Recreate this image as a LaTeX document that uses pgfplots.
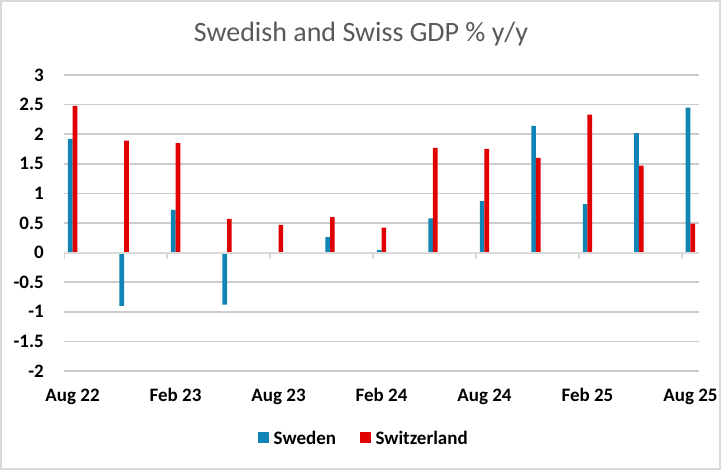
\documentclass[border=0pt]{standalone}
\usepackage{pgfplots}
\pgfplotsset{compat=1.18}
\usepackage{pgfplotstable}
\usepackage{fontspec}
\setmainfont{Carlito}

\definecolor{sweblue}{RGB}{16,132,180}
\definecolor{chred}{RGB}{224,0,0}
\definecolor{gridgray}{RGB}{204,204,204}
\definecolor{axisgray}{RGB}{217,217,217}
\definecolor{titlegray}{RGB}{89,89,89}

% months from Aug 22 (=0), quarterly
\pgfplotstableread{
m   se     ch
0   1.92   2.48
3   -0.90  1.89
6   0.72   1.85
9   -0.88  0.57
12  0.00   0.47
15  0.26   0.60
18  0.04   0.42
21  0.58   1.77
24  0.87   1.75
27  2.14   1.60
30  0.82   2.33
33  2.02   1.47
36  2.45   0.49
}\gdp

\begin{document}
\begin{tikzpicture}[x=1bp,y=1bp]
\useasboundingbox (0,0) rectangle (721,470);
\draw[axisgray, line width=2bp] (1,1) rectangle (720,469);
\node[anchor=base, font=\fontsize{28bp}{33bp}\selectfont, text=titlegray, inner sep=0pt]
  at (361,428.3) {Swedish and Swiss GDP \% y/y};
\begin{axis}[
  at={(64bp,99bp)}, anchor=south west,
  width=635bp, height=296bp, scale only axis,
  xmin=-0.5, xmax=36.5, ymin=-2, ymax=3,
  axis line style={draw=none},
  major tick length=0pt,
  xtick={0,6,...,36},
  xticklabels={Aug 22,Feb 23,Aug 23,Feb 24,Aug 24,Feb 25,Aug 25},
  ytick={-2,-1.5,-1,-0.5,0,0.5,1,1.5,2,2.5,3},
  yticklabels={-2,-1.5,-1,-0.5,0,0.5,1,1.5,2,2.5,3},
  ymajorgrids,
  grid style={gridgray, line width=1.5bp},
  tick label style={font=\fontsize{19bp}{22bp}\selectfont\bfseries, inner sep=0pt},
  xticklabel style={anchor=base, yshift=-31bp},
  yticklabel style={anchor=east, xshift=-20bp},
  ybar=0pt, bar width=4.7bp,
  legend style={at={(axis description cs:0.4724,-0.2297)}, anchor=center,
    draw=none, fill=none, font=\fontsize{19bp}{22bp}\selectfont\bfseries,
    /tikz/every even column/.append style={column sep=22bp}},
  legend columns=2,
  legend image code/.code={\fill[#1] (0bp,-4bp) rectangle (10.5bp,6.5bp);
    \path (0bp,0bp) -- (13.5bp,0bp);},
]
\addplot[fill=sweblue, draw=none] table[x=m, y=se] {\gdp};
\addplot[fill=chred, draw=none] table[x=m, y=ch] {\gdp};
\legend{Sweden,Switzerland}
\draw[axisgray, line width=2bp] (axis cs:-0.5,0) -- (axis cs:36.5,0);
\pgfplotsinvokeforeach{-0.5,5.5,11.5,17.5,23.5,29.5,35.5}{
  \draw[axisgray, line width=2bp] (axis cs:#1,0) -- (axis cs:#1,-0.1);
}
\end{axis}
\end{tikzpicture}
\end{document}
